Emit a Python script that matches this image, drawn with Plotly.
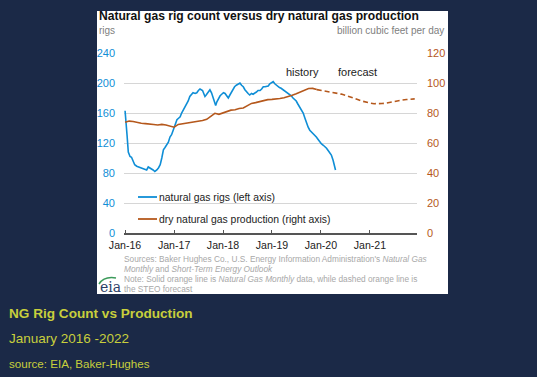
import plotly.graph_objects as go
import pandas as pd

# ---------------- data ----------------
rig_dates = [
    "2016-01-01", "2016-01-08", "2016-01-16", "2016-01-25", "2016-02-07", "2016-02-18", "2016-03-01",
    "2016-03-13", "2016-03-28", "2016-04-10", "2016-04-28", "2016-05-16", "2016-06-01", "2016-06-10",
    "2016-06-22", "2016-07-04", "2016-07-16", "2016-07-28", "2016-08-10", "2016-08-25", "2016-09-07",
    "2016-09-19", "2016-10-01", "2016-10-13", "2016-10-25", "2016-11-07", "2016-11-19", "2016-12-01",
    "2016-12-13", "2016-12-25", "2017-01-10", "2017-01-22", "2017-02-03", "2017-02-15", "2017-02-26",
    "2017-03-10", "2017-03-22", "2017-04-04", "2017-04-16", "2017-04-28", "2017-05-10", "2017-05-22",
    "2017-06-07", "2017-06-19", "2017-07-01", "2017-07-13", "2017-08-01", "2017-08-10", "2017-08-19",
    "2017-08-28", "2017-09-07", "2017-09-16", "2017-09-25", "2017-10-07", "2017-10-16", "2017-10-25",
    "2017-11-01", "2017-11-07", "2017-11-16", "2017-11-28", "2017-12-10", "2017-12-22", "2018-01-04",
    "2018-01-16", "2018-01-28", "2018-02-09", "2018-02-21", "2018-03-04", "2018-03-16", "2018-03-28",
    "2018-04-10", "2018-04-22", "2018-05-07", "2018-05-19", "2018-06-01", "2018-06-13", "2018-06-25",
    "2018-07-07", "2018-07-19", "2018-08-01", "2018-08-13", "2018-08-25", "2018-09-07", "2018-09-19",
    "2018-10-04", "2018-10-16", "2018-10-28", "2018-11-10", "2018-11-22", "2018-12-04", "2018-12-16",
    "2018-12-28", "2019-01-10", "2019-01-22", "2019-02-03", "2019-02-15", "2019-02-26", "2019-03-10",
    "2019-03-25", "2019-04-07", "2019-04-19", "2019-05-01", "2019-05-13", "2019-05-25", "2019-06-07",
    "2019-06-19", "2019-07-01", "2019-07-13", "2019-07-28", "2019-08-10", "2019-08-22", "2019-09-04",
    "2019-09-16", "2019-09-28", "2019-10-10", "2019-10-22", "2019-11-04", "2019-11-16", "2019-11-28",
    "2019-12-10", "2019-12-22", "2020-01-04", "2020-01-19", "2020-02-01", "2020-02-12", "2020-02-24",
    "2020-03-07", "2020-03-19", "2020-04-01", "2020-04-13", "2020-04-19",
]
rig_counts = [
    163, 150, 130, 108, 102, 101, 97,
    91, 89, 88, 87, 86, 85, 84,
    88, 87, 86, 84, 82, 84, 87,
    91, 100, 111, 114, 117, 121, 128,
    131, 137, 146, 151, 153, 155, 160,
    164, 168, 171, 176, 182, 185, 187,
    186, 187, 190, 192, 190, 186, 182,
    184, 187, 189, 191, 187, 182, 175,
    171, 170, 175, 180, 183, 185, 187,
    186, 183, 180, 184, 188, 191, 195,
    197, 198, 200, 197, 195, 191, 188,
    186, 184, 186, 185, 186, 188, 190,
    190, 192, 195, 195, 196, 196, 199,
    201, 202, 199, 197, 196, 194, 193,
    191, 189, 187, 186, 185, 183, 180,
    178, 176, 172, 168, 164, 160, 153,
    146, 141, 137, 135, 133, 131, 128,
    125, 122, 119, 117, 115, 113, 110,
    107, 104, 97, 87, 84,
]

# dry natural gas production, monthly, Jan 2016 - Dec 2019 (history)
prod_hist = [
    73.8, 74.6, 74.3, 73.6, 73.2, 72.9, 72.4, 72.3, 72.0, 72.4, 72.0, 71.3,
    70.5, 72.4, 72.8, 73.1, 73.5, 73.9, 74.5, 75.0, 75.8, 77.8, 79.8, 79.1,
    80.0, 81.2, 81.9, 82.2, 83.0, 83.3, 85.0, 86.4, 86.9, 87.6, 88.7, 88.9,
    89.1, 89.3, 89.7, 90.2, 90.8, 91.8, 92.8, 94.0, 95.4, 96.3, 96.4, 95.6,
]
# STEO forecast, monthly, Dec 2019 - Dec 2021
prod_fcst = [
    95.6, 95.1, 94.8, 94.4, 94.0, 93.4, 92.6, 91.8, 91.0, 90.0, 89.0, 88.0, 87.2,
    86.6, 86.2, 86.1, 86.3, 86.6, 87.2, 87.7, 88.2, 88.7, 89.0, 89.2, 89.4,
]
hist_dates = pd.date_range("2016-01-01", periods=len(prod_hist), freq="MS")
fcst_dates = pd.date_range("2019-12-01", periods=len(prod_fcst), freq="MS")

tick_dates = ["2016-01-01", "2017-01-01", "2018-01-01", "2019-01-01", "2020-01-01", "2021-01-01"]
tick_labels = ["Jan-16", "Jan-17", "Jan-18", "Jan-19", "Jan-20", "Jan-21"]

# ---------------- styling ----------------
W, H = 537, 377
L, R, T, B = 124, 417, 53, 233  # plot area in pixels
BLUE = "#0f8ed6"
ORANGE = "#b5581c"
NAVY = "#1b2947"
YELLOW = "#c8cf3c"
FONT = "Arial, Liberation Sans, sans-serif"


def px(x):
    return (x - L) / (R - L)


def py(y):
    return (B - y) / (B - T)


fig = go.Figure()
fig.add_trace(go.Scatter(x=rig_dates, y=rig_counts, mode="lines",
                         line=dict(color=BLUE, width=1.6), showlegend=False, yaxis="y"))
fig.add_trace(go.Scatter(x=hist_dates, y=prod_hist, mode="lines",
                         line=dict(color=ORANGE, width=1.6), showlegend=False, yaxis="y2"))
fig.add_trace(go.Scatter(x=fcst_dates, y=prod_fcst, mode="lines",
                         line=dict(color=ORANGE, width=1.6, dash="5px,3px"), showlegend=False, yaxis="y2"))

shapes = [
    dict(type="rect", xref="paper", yref="paper", x0=px(97), x1=px(448), y0=py(294), y1=py(11),
         fillcolor="white", line=dict(width=0), layer="below"),
    dict(type="line", xref="paper", yref="paper", x0=px(138), x1=px(157), y0=py(197), y1=py(197),
         line=dict(color=BLUE, width=1.8)),
    dict(type="line", xref="paper", yref="paper", x0=px(138), x1=px(157), y0=py(219), y1=py(219),
         line=dict(color=ORANGE, width=1.8)),
    dict(type="path", xref="paper", yref="paper",
         path=f"M {px(99)} {py(284)} Q {px(104)} {py(276)} {px(116)} {py(278)}",
         line=dict(color="#3c9a5a", width=1.5)),
]

annotations = []


def note(x, y, text, size, color, xanchor="left", bold=False, family=FONT):
    if bold:
        text = f"<b>{text}</b>"
    annotations.append(dict(x=px(x), y=py(y), xref="paper", yref="paper", text=text, showarrow=False,
                            xanchor=xanchor, yanchor="middle", align="left",
                            font=dict(size=size, color=color, family=family)))


note(97, 16, "Natural gas rig count versus dry natural gas production", 12.1, "#111", bold=True)
note(97, 30, "rigs", 10, "#808080")
note(446, 30, "billion cubic feet per day", 10, "#808080", xanchor="right")
note(302, 72, "history", 11, "#222", xanchor="center")
note(357, 72, "forecast", 11, "#222", xanchor="center")
note(157, 197, "natural gas rigs (left axis)", 10.4, "#222")
note(157, 219, "dry natural gas production (right axis)", 10.4, "#222")
gray = "#a8a8a8"
note(122, 259, "Sources: Baker Hughes Co., U.S. Energy Information Administration's <i>Natural Gas</i>", 8.3, gray)
note(122, 269, "<i>Monthly</i> and <i>Short-Term Energy Outlook</i>", 8.3, gray)
note(122, 279, "Note: Solid orange line is <i>Natural Gas Monthly</i> data, while dashed orange line is", 8.3, gray)
note(122, 289, "the STEO forecast", 8.3, gray)
note(98, 287, "eia", 14, "#2c3e66", family="DejaVu Serif, serif")
note(7, 313, "NG Rig Count vs Production", 13.6, YELLOW, bold=True)
note(7, 338, "January 2016 -2022", 13.5, YELLOW)
note(7, 363, "source: EIA, Baker-Hughes", 11.6, YELLOW)

fig.update_layout(
    width=W, height=H, autosize=False,
    margin=dict(l=L, r=W - R, t=T, b=H - B, pad=0),
    paper_bgcolor=NAVY, plot_bgcolor="white",
    font=dict(family=FONT, size=11, color="#222"),
    showlegend=False, hovermode=False,
    shapes=shapes, annotations=annotations,
    xaxis=dict(type="date", range=["2015-12-24", "2021-12-18"], tickvals=tick_dates, ticktext=tick_labels,
               showgrid=False, zeroline=False, showline=True, linecolor="#555", linewidth=1.5,
               ticks="inside", ticklen=3, tickcolor="#555", tickwidth=1,
               tickfont=dict(size=10.6, color="#222"), ticklabelstandoff=2),
    yaxis=dict(range=[0, 240], tickvals=[0, 40, 80, 120, 160, 200, 240], showgrid=True, gridcolor="#d6d6d6",
               gridwidth=1, zeroline=False, showline=False, ticks="",
               tickfont=dict(size=11, color=BLUE), ticklabelstandoff=8),
    yaxis2=dict(range=[0, 120], tickvals=[0, 20, 40, 60, 80, 100, 120], overlaying="y", side="right",
                showgrid=False, zeroline=False, showline=False, ticks="",
                tickfont=dict(size=11, color=ORANGE), ticklabelstandoff=9),
)

fig.write_html(
    "out.html",
    config={"displayModeBar": False, "staticPlot": True},
    post_script="document.body.style.margin='0';document.body.style.padding='0';"
                "document.body.style.background='%s';" % NAVY,
)
